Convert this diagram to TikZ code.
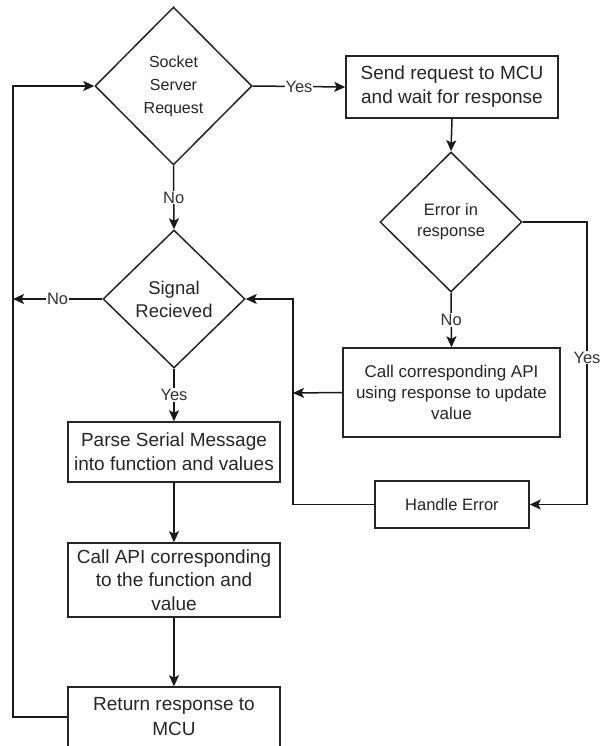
\documentclass[tikz,border=0pt]{standalone}
\usepackage{fontspec}
\setmainfont{Liberation Sans}
\usetikzlibrary{shapes.geometric,arrows.meta}

\tikzset{
  base/.style={draw=black!85, line width=1.5pt, text=black!85, align=center, inner sep=0pt},
  procbox/.style={base, rectangle, font=\fontsize{19}{24}\selectfont},
  decision/.style={base, diamond, aspect=1},
  flow/.style={draw=black!90, line width=1.5pt, -{Stealth[length=11pt,width=10pt,inset=2.5pt]}},
  lbl/.style={fill=white, inner sep=1pt, text=black!80, font=\fontsize{16.5}{18}\selectfont}
}

\begin{document}
\begin{tikzpicture}[x=1pt,y=-1pt]
  \clip (0,0) rectangle (600,746);
  \fill[white] (0,0) rectangle (600,746);

  % decisions
  \node[decision, minimum width=157pt, minimum height=158pt,
        font=\fontsize{16}{23}\selectfont] (req) at (173.5,86) {Socket\\Server\\Request};
  \node[decision, minimum width=142pt, minimum height=140pt,
        font=\fontsize{16.5}{21}\selectfont] (err) at (451,222) {Error in\\response};
  \node[decision, minimum width=142pt, minimum height=138pt,
        font=\fontsize{18.5}{23}\selectfont] (sig) at (174,299) {Signal\\Recieved};

  % process boxes
  \node[procbox, minimum width=212pt, minimum height=62pt] (send) at (452,87)
        {Send request to MCU\\and wait for response};
  \node[procbox, minimum width=217pt, minimum height=89pt,
        font=\fontsize{17}{21}\selectfont] (upd) at (451.5,392.5)
        {Call corresponding API\\using response to update\\value};
  \node[procbox, minimum width=154pt, minimum height=47pt,
        font=\fontsize{16.5}{20}\selectfont] (herr) at (452,504.5) {Handle Error};
  \node[procbox, minimum width=212pt, minimum height=60pt] (parse) at (174,452)
        {Parse Serial Message\\into function and values};
  \node[procbox, minimum width=212pt, minimum height=74pt,
        font=\fontsize{19}{23.3}\selectfont] (call) at (174,580)
        {Call API corresponding\\to the function and\\value};
  \node[procbox, minimum width=212pt, minimum height=60pt,
        font=\fontsize{19}{25}\selectfont] (ret) at (174,717)
        {Return response to\\MCU};

  % junction points of the routed lines
  \coordinate (errR) at (587,222);
  \coordinate (errRb) at (587,504.5);
  \coordinate (busT) at (293,299);
  \coordinate (busB) at (293,504.5);
  \coordinate (busM) at (293,393);
  \coordinate (leftM) at (13,299);
  \coordinate (leftT) at (13,86);
  \coordinate (leftB) at (13,717);

  % connectors
  \draw[flow] (req.east) -- node[lbl] {Yes} (send.west);
  \draw[flow] (send.south) -- (err.north);
  \draw[flow] (err.south) -- node[lbl] {No} (upd.north);
  \draw[flow] (err.east) -- (errR) -- node[lbl, pos=0.48] {Yes} (errRb) -- (herr.east);
  \draw[flow] (upd.west) -- (busM);
  \draw[flow] (herr.west) -- (busB) -- (busT) -- (sig.east);
  \draw[flow] (req.south) -- node[lbl] {No} (sig.north);
  \draw[flow] (sig.west) -- node[lbl] {No} (leftM);
  \draw[flow] (sig.south) -- node[lbl] {Yes} (parse.north);
  \draw[flow] (parse.south) -- (call.north);
  \draw[flow] (call.south) -- (ret.north);
  \draw[flow] (ret.west) -- (leftB) -- (leftT) -- (req.west);
\end{tikzpicture}
\end{document}
